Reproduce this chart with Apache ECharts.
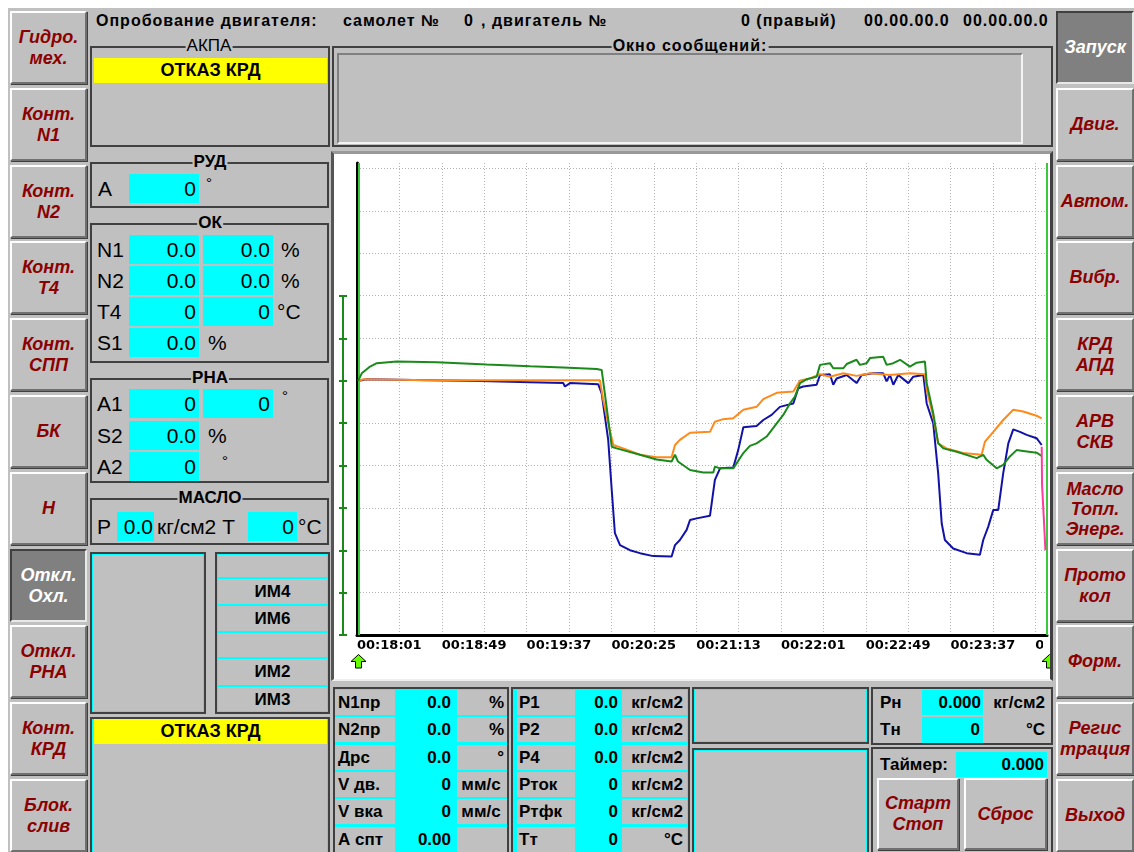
<!DOCTYPE html>
<html><head><meta charset="utf-8">
<script src="https://cdn.jsdelivr.net/npm/echarts@6/dist/echarts.min.js"></script>
<style>
html,body{margin:0;padding:0;background:#fff;width:1134px;height:852px;overflow:hidden;font-family:"Liberation Sans",Arial,sans-serif;}
.a{position:absolute;box-sizing:border-box;white-space:nowrap;}
.bg{position:absolute;left:8px;top:8px;width:1126px;height:844px;background:#c0c0c0;}
.btn{position:absolute;box-sizing:border-box;background:#c0c0c0;border-top:2px solid #fff;border-left:2px solid #fff;border-right:2px solid #707070;border-bottom:2px solid #707070;box-shadow:1px 1px 0 #404040;display:flex;align-items:center;justify-content:center;text-align:center;font:italic bold 18px/21px "Liberation Sans",Arial,sans-serif;color:#8b0000;}
.btn.dn{background:#808080;color:#fff;border-top-color:#404040;border-left-color:#404040;border-right-color:#e8e8e8;border-bottom-color:#e8e8e8;box-shadow:none;}
.grp{position:absolute;box-sizing:border-box;border:2px solid #404040;}
.cyb{position:absolute;box-sizing:border-box;border:2px solid #404040;box-shadow:inset 0 0 0 1px #00ffff;}
.ttl{position:absolute;background:#c0c0c0;font:bold 17px/16px "Liberation Sans",Arial,sans-serif;color:#000;padding:0 1px;white-space:nowrap;transform:translateX(-50%);}
.cy{position:absolute;box-sizing:border-box;background:#00ffff;text-align:right;padding-right:3px;font:21px/29px "Liberation Sans",Arial,sans-serif;}
.lb{position:absolute;font:21px/29px "Liberation Sans",Arial,sans-serif;white-space:nowrap;}
.hd{position:absolute;font:bold 16px/18px "Liberation Sans",Arial,sans-serif;white-space:nowrap;top:12px;letter-spacing:1px;}
.yl{position:absolute;box-sizing:border-box;background:#ffff00;text-align:center;font:bold 18px/25px "Liberation Sans",Arial,sans-serif;}
.tc{position:absolute;box-sizing:border-box;font:bold 17px/25px "Liberation Sans",Arial,sans-serif;white-space:nowrap;}
</style>
</head><body>
<div class="bg"></div>
<div id="ui"></div>
<div class="a" style="left:331px;top:151px;width:722px;height:530px;background:#fff;border-left:3px solid #555;border-top:3px solid #999;border-right:3px solid #404040;border-bottom:2px solid #eee;"></div>
<div id="chart" class="a" style="left:336px;top:154px;width:714px;height:525px;"></div>
<div class="a" style="left:1043px;top:637px;width:7px;height:15px;background:#fff;"></div>
<svg class="a" style="left:350px;top:654px;" width="17" height="15"><polygon points="8.5,0.5 16,7.5 11.5,7.5 11.5,14 5.5,14 5.5,7.5 1,7.5" fill="#66ff00" stroke="#000" stroke-width="1"/></svg>
<div class="a" style="left:1041px;top:654px;width:9px;height:15px;overflow:hidden;"><svg width="17" height="15"><polygon points="8.5,0.5 16,7.5 11.5,7.5 11.5,14 5.5,14 5.5,7.5 1,7.5" fill="#66ff00" stroke="#000" stroke-width="1"/></svg></div>
<script>
// ---------- chart data ----------
const startSeconds = 1081;            // 00:18:01 at the left edge
const timeStep = 24;                  // seconds per grid cell
const timeSpan = 390.6;               // seconds shown
const valueTop = 111.3;               // value at the top of the plot
const timeLabels = ['00:18:01','00:18:49','00:19:37','00:20:25','00:21:13','00:22:01','00:22:49','00:23:37','00:24:25'];
const cursorTimes = [0.8, 390.2];
const greenLine = [[0.6,59.9],[2.7,61.7],[7.4,63.3],[11.2,64.1],[22.5,64.5],[45.1,64.3],[73.4,63.8],[97.9,63.4],[116.6,63.1],[135.7,62.7],[138.5,62.5],[141.3,53.8],[144.2,44.4],[147.0,44.0],[160.2,42.5],[169.6,41.4],[178.1,40.9],[180.0,42.5],[181.7,40.9],[188.5,38.9],[196.0,38.3],[201.7,38.3],[202.6,39.7],[205.5,39.3],[213.0,39.3],[218.7,42.9],[222.4,44.6],[226.2,45.2],[231.9,46.8],[237.6,49.9],[241.3,51.9],[245.1,54.6],[247.9,56.2],[250.8,59.4],[254.5,60.3],[260.2,60.9],[262.1,63.7],[267.7,64.1],[269.6,62.9],[275.3,62.9],[277.2,63.9],[282.8,64.9],[284.7,63.7],[288.5,64.1],[290.4,65.3],[297.9,65.6],[299.8,63.7],[303.6,64.1],[307.4,64.9],[313.0,63.3],[316.8,64.2],[321.5,64.5],[322.5,59.4],[326.2,52.3],[329.0,45.2],[331.9,44.0],[339.5,43.2],[350.8,41.7],[354.5,42.5],[356.4,41.3],[362.1,39.3],[365.8,40.1],[369.6,42.1],[373.4,43.6],[377.1,43.4],[384.7,43.0],[387.6,42.2]];
const blueLine = [[0.6,59.9],[5.5,60.3],[41.3,60.1],[69.6,59.9],[97.9,59.6],[116.8,59.4],[117.7,58.6],[120.6,59.4],[136.6,59.1],[138.5,57.0],[142.2,46.0],[144.2,34.2],[146.0,24.0],[148.9,21.2],[154.5,20.0],[160.2,19.3],[167.7,18.6],[178.1,18.5],[180.0,21.2],[182.8,22.4],[186.6,24.8],[188.5,27.1],[192.3,27.5],[199.8,28.1],[200.8,31.1],[202.6,36.6],[205.5,39.3],[213.0,39.5],[215.8,43.6],[218.7,49.0],[226.2,49.3],[230.0,50.7],[234.7,51.9],[239.4,53.8],[243.2,54.2],[247.0,54.6],[249.8,58.2],[252.6,58.6],[260.2,59.0],[262.1,61.3],[267.7,61.5],[269.6,59.0],[271.5,60.5],[277.2,61.3],[282.8,59.4],[285.7,61.3],[292.2,61.7],[297.9,61.7],[299.8,59.8],[301.7,61.3],[303.6,59.0],[306.4,61.3],[312.1,59.4],[314.9,60.9],[320.6,61.3],[322.5,54.6],[326.2,49.9],[329.0,38.1],[331.0,26.3],[332.8,22.4],[337.5,20.4],[345.1,19.3],[352.6,18.9],[354.5,22.4],[357.3,25.5],[360.2,29.5],[363.0,29.5],[365.8,38.1],[368.7,45.2],[371.5,48.5],[375.3,47.9],[379.1,47.2],[384.7,46.4],[387.6,44.8]];
const orangeLine = [[0.6,59.9],[3.6,60.3],[41.3,60.1],[137.5,60.1],[139.4,55.4],[142.2,49.9],[145.1,44.8],[150.7,44.0],[160.2,42.5],[169.6,41.9],[178.1,41.9],[180.0,44.8],[182.8,46.0],[188.5,47.7],[199.8,47.9],[202.6,50.3],[207.3,50.9],[213.0,51.1],[218.7,53.1],[226.2,53.8],[230.0,55.6],[237.6,57.1],[247.0,57.4],[250.8,60.0],[256.4,60.5],[262.1,61.5],[267.7,60.9],[275.3,61.7],[282.8,61.1],[290.4,61.7],[301.7,61.3],[313.0,61.7],[321.5,61.5],[322.5,57.8],[326.2,51.5],[329.0,45.2],[333.7,44.0],[343.1,42.9],[353.6,42.5],[355.5,45.6],[360.2,47.9],[365.8,50.7],[371.5,53.1],[377.1,52.7],[384.7,51.7],[387.6,51.1]];
const pinkLine = [[387.6,44.4],[387.8,35.4],[388.6,35.0],[388.8,27.5],[389.5,27.3],[389.7,20.0]];

// ---------- screen texts ----------
const leftButtons = ['Гидро.<br>мех.','Конт.<br>N1','Конт.<br>N2','Конт.<br>T4','Конт.<br>СПП','БК','Н','Откл.<br>Охл.','Откл.<br>РНА','Конт.<br>КРД','Блок.<br>слив'];
const rightButtons = ['Запуск','Двиг.','Автом.','Вибр.','КРД<br>АПД','АРВ<br>СКВ','Масло<br>Топл.<br>Энерг.','Прото<br>кол','Форм.','Регис<br>трация','Выход'];
const table1 = [['N1пр','0.0','%','right'],['N2пр','0.0','%','right'],['Дрс','0.0','°','right'],['V дв.','0','мм/с','center'],['V вка','0','мм/с','center'],['А спт','0.00','','right']];
const table2 = [['Р1','0.0','кг/см2'],['Р2','0.0','кг/см2'],['Р4','0.0','кг/см2'],['Рток','0','кг/см2'],['Ртфк','0','кг/см2'],['Тт','0','°C']];

const ui = document.getElementById('ui');
function add(cls, x, y, w, h, html, style) {
  const d = document.createElement('div');
  d.className = cls;
  let s = 'left:' + x + 'px;top:' + y + 'px;';
  if (w != null) s += 'width:' + w + 'px;';
  if (h != null) s += 'height:' + h + 'px;';
  d.style.cssText = s + (style || '');
  if (html != null) d.innerHTML = html;
  ui.appendChild(d);
  return d;
}
// side buttons
leftButtons.forEach((t, i) => add('btn' + (i === 7 ? ' dn' : ''), 10, Math.round(11 + i * 76.8), 77, 73, t));
rightButtons.forEach((t, i) => add('btn' + (i === 0 ? ' dn' : ''), 1056, Math.round(11 + i * 76.8), 78, 73, t, i === 6 ? 'line-height:20px;' : ''));
// header
add('hd', 96, 12, null, null, 'Опробование двигателя:');
add('hd', 343, 12, null, null, 'самолет №');
add('hd', 464, 12, null, null, '0');
add('hd', 481, 12, null, null, ', двигатель №');
add('hd', 741, 12, null, null, '0 (правый)');
add('hd', 864, 12, null, null, '00.00.00.0');
add('hd', 963, 12, null, null, '00.00.00.0');
// АКПА
add('grp', 90, 46, 240, 101);
add('ttl', 209, 38, null, null, 'АКПА', 'font-weight:normal;');
add('yl', 94, 58, 233, 25, 'ОТКАЗ КРД');
// Окно сообщений
add('grp', 332, 46, 721, 101);
add('ttl', 690, 38, null, null, 'Окно сообщений:', 'font-size:16px;letter-spacing:1px;');
add('a', 337, 53, 686, 91, null, 'border-top:2px solid #808080;border-left:2px solid #808080;border-right:2px solid #f4f4f4;border-bottom:2px solid #f4f4f4;');
// РУД
add('grp', 90, 162, 239, 46);
add('ttl', 210, 154, null, null, 'РУД');
add('lb', 98, 174, null, null, 'A');
add('cy', 129, 174, 70, 29, '0');
add('lb', 206, 168, null, null, '°', 'font-size:15px;');
// ОК
add('grp', 90, 223, 239, 140);
add('ttl', 210, 215, null, null, 'ОК');
const okRows = [['N1', '0.0', '0.0', '%'], ['N2', '0.0', '0.0', '%'], ['T4', '0', '0', '°C'], ['S1', '0.0', null, '%']];
okRows.forEach((r, i) => {
  const y = 235 + i * 31;
  add('lb', 97, y, null, null, r[0]);
  add('cy', 129, y, 70, 29, r[1]);
  if (r[2] != null) { add('cy', 203, y, 70, 29, r[2]); add('lb', r[3] === '°C' ? 277 : 281, y, null, null, r[3]); }
  else add('lb', 208, y, null, null, r[3]);
});
// РНА
add('grp', 90, 378, 239, 105);
add('ttl', 210, 370, null, null, 'РНА');
add('lb', 97, 389, null, null, 'A1'); add('cy', 129, 389, 70, 29, '0'); add('cy', 203, 389, 70, 29, '0'); add('lb', 282, 381, null, null, '°', 'font-size:15px;');
add('lb', 97, 421, null, null, 'S2'); add('cy', 129, 421, 70, 29, '0.0'); add('lb', 208, 421, null, null, '%');
add('lb', 97, 452, null, null, 'A2'); add('cy', 129, 452, 70, 29, '0'); add('lb', 222, 446, null, null, '°', 'font-size:15px;');
// МАСЛО
add('grp', 90, 498, 239, 47);
add('ttl', 210, 490, null, null, 'МАСЛО');
add('lb', 97, 512, null, null, 'P');
add('cy', 117, 512, 37, 29, '0.0', 'padding-right:1px;');
add('lb', 157, 512, null, null, 'кг/см2 Т');
add('cy', 248, 512, 49, 29, '0');
add('lb', 298, 512, null, null, '°C');
// ИМ boxes
add('cyb', 90, 552, 116, 162);
add('cyb', 215, 552, 115, 162);
[578, 605, 632, 658, 686].forEach(y => add('a', 217, y - 1, 111, 2, null, 'background:#00ffff;'));
[['ИМ4', 578], ['ИМ6', 605], ['ИМ2', 658], ['ИМ3', 686]].forEach(r => add('tc', 217, r[1] + 1, 111, 26, r[0], 'text-align:center;'));
add('cyb', 90, 717, 240, 145);
add('yl', 94, 719, 233, 25, 'ОТКАЗ КРД');
// bottom tables
add('a', 333, 687, 176, 175, null, 'background:#00ffff;border:2px solid #404040;');
table1.forEach((r, i) => {
  const y = Math.round(690 + i * 27.3);
  add('tc', 335, y, 60, 25, r[0], 'background:#c0c0c0;padding-left:3px;');
  add('tc', 395, y, 56, 25, r[1], 'text-align:right;');
  add('tc', 457, y, 50, 25, r[2], 'background:#c0c0c0;text-align:' + r[3] + ';padding-right:3px;' + (r[3] === 'center' ? 'padding-left:1px;' : ''));
});
add('a', 511, 687, 179, 175, null, 'background:#00ffff;border:2px solid #404040;');
table2.forEach((r, i) => {
  const y = Math.round(690 + i * 27.3);
  add('tc', 517, y, 58, 25, r[0], 'background:#c0c0c0;padding-left:2px;');
  add('tc', 575, y, 43, 25, r[1], 'text-align:right;');
  add('tc', 622, y, 65, 25, r[2], 'background:#c0c0c0;text-align:right;padding-right:4px;');
});
add('cyb', 692, 687, 177, 57);
add('cyb', 692, 748, 177, 114);
// Рн / Тн
add('grp', 871, 687, 182, 58);
add('tc', 880, 690, null, 25, 'Рн');
add('tc', 922, 690, 61, 25, '0.000', 'background:#00ffff;text-align:right;padding-right:2px;');
add('tc', 983, 690, 62, 25, 'кг/см2', 'text-align:right;');
add('tc', 880, 717, null, 26, 'Тн');
add('tc', 922, 717, 61, 26, '0', 'background:#00ffff;text-align:right;padding-right:3px;');
add('tc', 983, 717, 62, 26, '°C', 'text-align:right;');
// Таймер
add('grp', 871, 747, 182, 115);
add('tc', 880, 752, null, 25, 'Таймер:');
add('tc', 956, 752, 91, 25, '0.000', 'background:#00ffff;text-align:right;padding-right:3px;');
add('btn', 877, 778, 82, 72, 'Старт<br>Стоп');
add('btn', 964, 778, 83, 72, 'Сброс');

// ---------- chart ----------
const chart = echarts.init(document.getElementById('chart'), null, { renderer: 'canvas' });
const dotted = { color: '#b4b4b4', width: 1, type: [1, 2] };
const greenTicks = (inside) => ({
  gridIndex: 1, type: 'value', min: 0, max: 8, interval: 1, position: 'left',
  axisLine: { show: true, lineStyle: { color: '#1a8a1a', width: 2 } },
  axisTick: { show: true, inside: inside, length: 4, lineStyle: { color: '#1a8a1a', width: 2 } },
  axisLabel: { show: false }, splitLine: { show: false }
});
chart.setOption({
  animation: false,
  backgroundColor: 'transparent',
  grid: [
    { left: 21, top: 9, right: 3, bottom: 44, containLabel: false, outerBoundsMode: 'none' },
    { left: 7, top: 142, width: 1, bottom: 44, containLabel: false, outerBoundsMode: 'none' }
  ],
  xAxis: [
    {
      gridIndex: 0, type: 'value', min: 0, max: timeSpan, interval: timeStep,
      axisLine: { show: true, onZero: false, lineStyle: { color: '#000', width: 3 } },
      axisTick: { show: false },
      splitLine: { show: true, showMinLine: false, showMaxLine: false, lineStyle: dotted },
      axisLabel: {
        show: true, align: 'left', margin: 4, color: '#000',
        fontFamily: 'DejaVu Sans', fontWeight: 'bold', fontSize: 13,
        formatter: (v) => {
          const k = v / (timeStep * 2);
          return Math.abs(k - Math.round(k)) < 1e-6 && timeLabels[Math.round(k)] ? timeLabels[Math.round(k)] : '';
        }
      }
    },
    { gridIndex: 1, type: 'value', min: 0, max: 1, show: false }
  ],
  yAxis: [
    {
      gridIndex: 0, type: 'value', min: 0, max: valueTop, interval: 10,
      axisLine: { show: true, onZero: false, lineStyle: { color: '#000', width: 3 } },
      axisTick: { show: false }, axisLabel: { show: false },
      splitLine: { show: true, showMinLine: false, showMaxLine: false, lineStyle: dotted }
    },
    greenTicks(true),
    greenTicks(false)
  ],
  series: [
    { type: 'line', data: blueLine, symbol: 'none', lineStyle: { color: '#1212a8', width: 2 }, z: 3 },
    { type: 'line', data: orangeLine, symbol: 'none', lineStyle: { color: '#ff8a1c', width: 2 }, z: 4 },
    {
      type: 'line', data: greenLine, symbol: 'none', lineStyle: { color: '#1a8a1a', width: 2 }, z: 5,
      markLine: {
        silent: true, symbol: 'none', label: { show: false },
        lineStyle: { color: '#3cc83c', width: 2, type: 'solid' },
        data: cursorTimes.map(t => ({ xAxis: t }))
      }
    },
    { type: 'line', data: pinkLine, symbol: 'none', lineStyle: { color: '#ff3aa0', width: 2 }, z: 6 }
  ]
});
</script>
</body></html>
